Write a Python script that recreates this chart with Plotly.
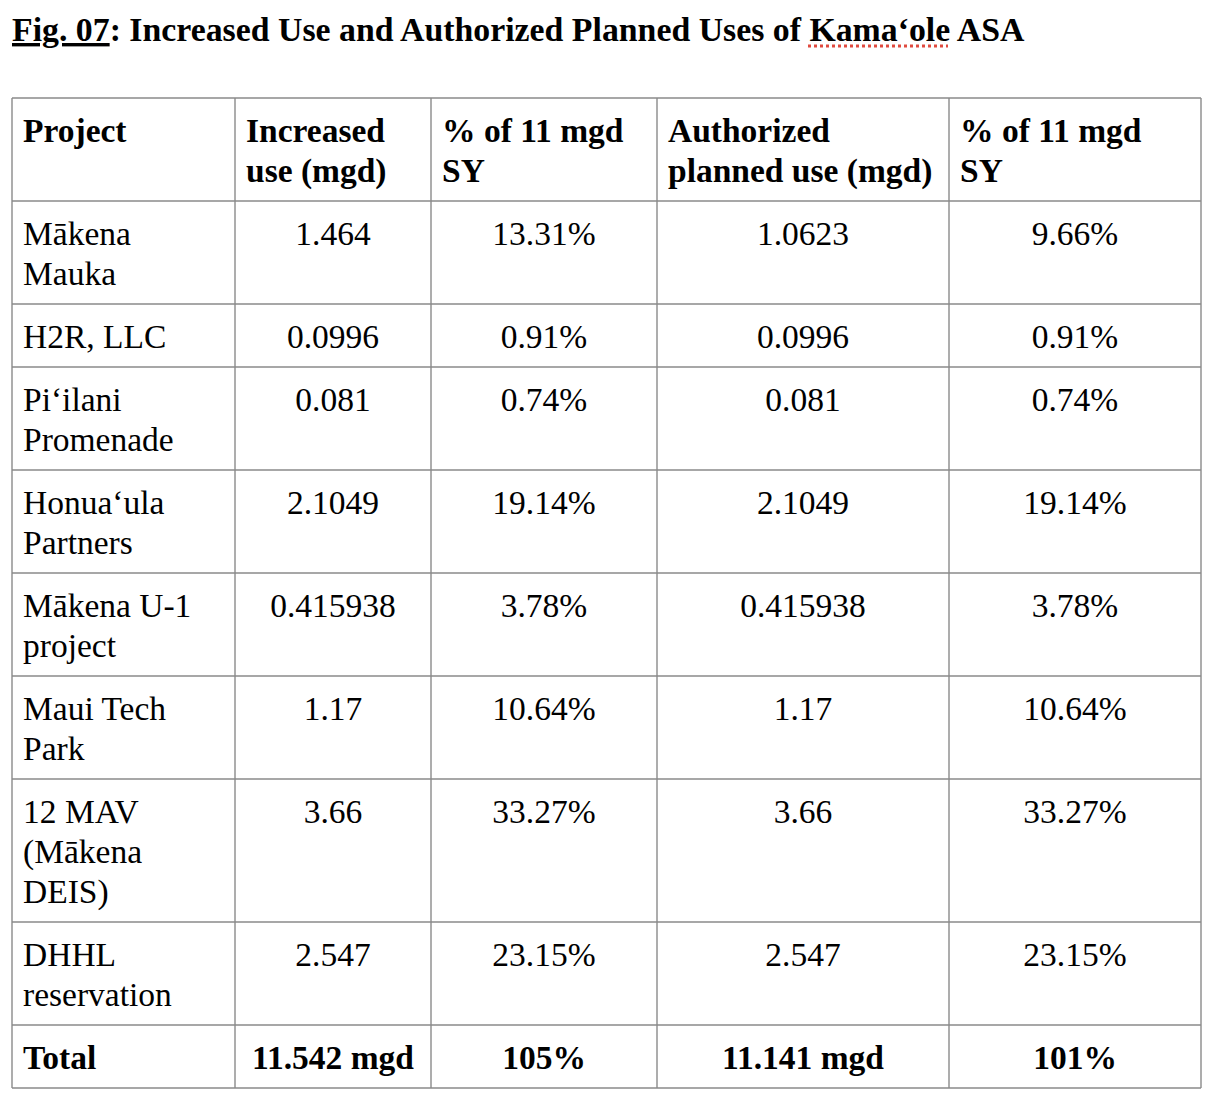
import plotly.graph_objects as go

# table content (one "<br>" per wrapped line, as in the original document)
title = "<b><u>Fig. 07</u>: Increased Use and Authorized Planned Uses of Kamaʻole ASA</b>"
header = ["Project", "Increased<br>use (mgd)", "% of 11 mgd<br>SY",
          "Authorized<br>planned use (mgd)", "% of 11 mgd<br>SY"]
projects = ["Mākena<br>Mauka", "H2R, LLC", "Piʻilani<br>Promenade", "Honuaʻula<br>Partners",
            "Mākena U-1<br>project", "Maui Tech<br>Park", "12 MAV<br>(Mākena<br>DEIS)",
            "DHHL<br>reservation", "Total"]
increased_use = ["1.464", "0.0996", "0.081", "2.1049", "0.415938", "1.17", "3.66", "2.547",
                 "11.542 mgd"]
increased_pct = ["13.31%", "0.91%", "0.74%", "19.14%", "3.78%", "10.64%", "33.27%", "23.15%",
                 "105%"]
planned_use = ["1.0623", "0.0996", "0.081", "2.1049", "0.415938", "1.17", "3.66", "2.547",
               "11.141 mgd"]
planned_pct = ["9.66%", "0.91%", "0.74%", "19.14%", "3.78%", "10.64%", "33.27%", "23.15%",
               "101%"]

# layout / style
W, H = 1222, 1106
OFF = 8                      # page body margin
FONT = "Liberation Serif"
SIZE = 33.5
TITLE_SIZE = 33.8
LINE = "#8a8a8a"
col_edges = [12, 235, 431, 657, 949, 1201]
table_top = 98
line_step = 40
first_base = 44
row_pad = 23
cell_pad = 11
shift = 0.25 * SIZE          # baseline offset of "middle" text

rows = [header] + [list(r) for r in zip(projects, increased_use, increased_pct,
                                         planned_use, planned_pct)]

row_edges = [table_top]
for r in rows:
    n = max(c.count("<br>") + 1 for c in r)
    row_edges.append(row_edges[-1] + row_pad + line_step * n)

lx, ly, lt, cx, cy, ct = [], [], [], [], [], []
for ri, r in enumerate(rows):
    bold = ri == 0 or ri == len(rows) - 1
    for ci, cell in enumerate(r):
        left = ri == 0 or ci == 0
        for li, part in enumerate(cell.split("<br>")):
            y = row_edges[ri] + first_base + line_step * li - shift
            txt = "<b>" + part + "</b>" if bold else part
            if left:
                lx.append(col_edges[ci] + cell_pad); ly.append(y); lt.append(txt)
            else:
                cx.append((col_edges[ci] + col_edges[ci + 1]) / 2); cy.append(y); ct.append(txt)

fig = go.Figure()
font = dict(family=FONT, size=SIZE, color="black")
fig.add_trace(go.Scatter(x=lx, y=ly, text=lt, mode="text", textposition="middle right",
                         textfont=font, hoverinfo="skip"))
fig.add_trace(go.Scatter(x=cx, y=cy, text=ct, mode="text", textposition="middle center",
                         textfont=font, hoverinfo="skip"))
fig.add_trace(go.Scatter(x=[12], y=[41 - 0.25 * TITLE_SIZE], text=[title], mode="text",
                         textposition="middle right",
                         textfont=dict(family=FONT, size=TITLE_SIZE, color="black"),
                         hoverinfo="skip"))

# grid
for y in row_edges:
    fig.add_shape(type="line", x0=col_edges[0], x1=col_edges[-1], y0=y, y1=y,
                  line=dict(color=LINE, width=1.4), layer="below")
for x in col_edges:
    fig.add_shape(type="line", x0=x, x1=x, y0=row_edges[0], y1=row_edges[-1],
                  line=dict(color=LINE, width=1.4), layer="below")

# spell-check squiggle under Kamaʻole
fig.add_shape(type="line", x0=808, x1=948, y0=46, y1=46,
              line=dict(color="#e04a3f", width=3, dash="dot"))

fig.update_xaxes(range=[OFF, W + OFF], visible=False, fixedrange=True)
fig.update_yaxes(range=[H + OFF, OFF], visible=False, fixedrange=True)
fig.update_layout(width=W, height=H, margin=dict(l=0, r=0, t=0, b=0),
                  paper_bgcolor="white", plot_bgcolor="white", showlegend=False,
                  hovermode=False)

fig.write_html("out.html")
